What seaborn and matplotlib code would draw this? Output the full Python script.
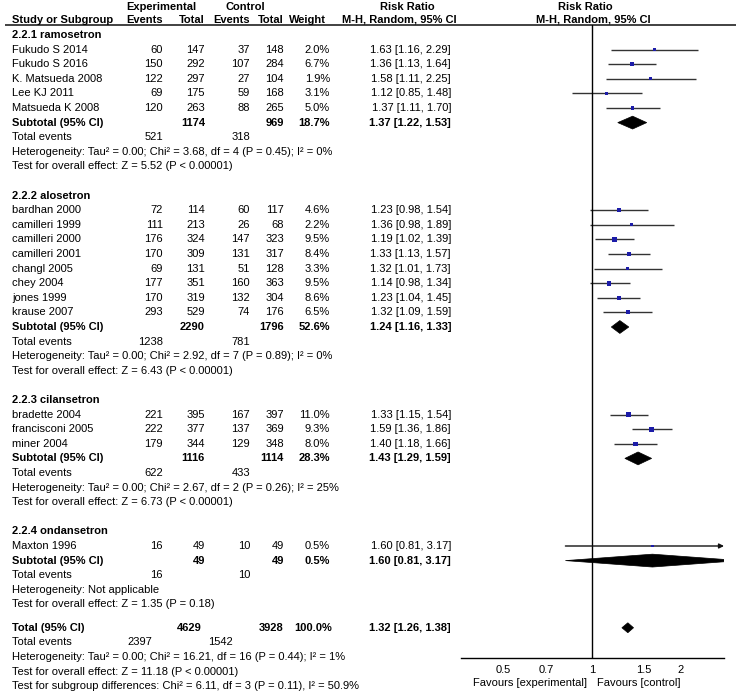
import matplotlib.pyplot as plt
import seaborn as sns
import pandas as pd
import numpy as np
from matplotlib.patches import Polygon
from matplotlib.ticker import NullLocator

sns.set_style("white")
plt.rcParams['font.family'] = ['Liberation Sans', 'DejaVu Sans']
plt.rcParams['text.color'] = 'black'
plt.rcParams['xtick.color'] = 'black'
FS = 8

# study level data
study = ["Fukudo S 2014", "Fukudo S 2016", "K. Matsueda 2008", "Lee KJ 2011", "Matsueda K 2008",
         "bardhan 2000", "camilleri 1999", "camilleri 2000", "camilleri 2001", "changl 2005",
         "chey 2004", "jones 1999", "krause 2007",
         "bradette 2004", "francisconi 2005", "miner 2004",
         "Maxton 1996"]
group = [0, 0, 0, 0, 0, 1, 1, 1, 1, 1, 1, 1, 1, 2, 2, 2, 3]
exp_events = [60, 150, 122, 69, 120, 72, 111, 176, 170, 69, 177, 170, 293, 221, 222, 179, 16]
exp_total = [147, 292, 297, 175, 263, 114, 213, 324, 309, 131, 351, 319, 529, 395, 377, 344, 49]
ctl_events = [37, 107, 27, 59, 88, 60, 26, 147, 131, 51, 160, 132, 74, 167, 137, 129, 10]
ctl_total = [148, 284, 104, 168, 265, 117, 68, 323, 317, 128, 363, 304, 176, 397, 369, 348, 49]
weight = [2.0, 6.7, 1.9, 3.1, 5.0, 4.6, 2.2, 9.5, 8.4, 3.3, 9.5, 8.6, 6.5, 11.0, 9.3, 8.0, 0.5]
rr = [1.63, 1.36, 1.58, 1.12, 1.37, 1.23, 1.36, 1.19, 1.33, 1.32, 1.14, 1.23, 1.32, 1.33, 1.59, 1.40, 1.60]
rr_lo = [1.16, 1.13, 1.11, 0.85, 1.11, 0.98, 0.98, 1.02, 1.13, 1.01, 0.98, 1.04, 1.09, 1.15, 1.36, 1.18, 0.81]
rr_hi = [2.29, 1.64, 2.25, 1.48, 1.70, 1.54, 1.89, 1.39, 1.57, 1.73, 1.34, 1.45, 1.59, 1.54, 1.86, 1.66, 3.17]

# subgroup data
grp_name = ["2.2.1 ramosetron", "2.2.2 alosetron", "2.2.3 cilansetron", "2.2.4 ondansetron"]
sub_exp_total = [1174, 2290, 1116, 49]
sub_ctl_total = [969, 1796, 1114, 49]
sub_weight = [18.7, 52.6, 28.3, 0.5]
sub_rr = [1.37, 1.24, 1.43, 1.60]
sub_lo = [1.22, 1.16, 1.29, 0.81]
sub_hi = [1.53, 1.33, 1.59, 3.17]
sub_exp_events = [521, 1238, 622, 16]
sub_ctl_events = [318, 781, 433, 10]
sub_het = ["Heterogeneity: Tau² = 0.00; Chi² = 3.68, df = 4 (P = 0.45); I² = 0%",
           "Heterogeneity: Tau² = 0.00; Chi² = 2.92, df = 7 (P = 0.89); I² = 0%",
           "Heterogeneity: Tau² = 0.00; Chi² = 2.67, df = 2 (P = 0.26); I² = 25%",
           "Heterogeneity: Not applicable"]
sub_test = ["Test for overall effect: Z = 5.52 (P < 0.00001)",
            "Test for overall effect: Z = 6.43 (P < 0.00001)",
            "Test for overall effect: Z = 6.73 (P < 0.00001)",
            "Test for overall effect: Z = 1.35 (P = 0.18)"]

# overall
tot_exp_total, tot_ctl_total, tot_weight = 4629, 3928, 100.0
tot_rr, tot_lo, tot_hi = 1.32, 1.26, 1.38
tot_exp_events, tot_ctl_events = 2397, 1542
tot_lines = ["Heterogeneity: Tau² = 0.00; Chi² = 16.21, df = 16 (P = 0.44); I² = 1%",
             "Test for overall effect: Z = 11.18 (P < 0.00001)",
             "Test for subgroup differences: Chi² = 6.11, df = 3 (P = 0.11), I² = 50.9%"]

# row layout
W, H = 736, 697
Y0, STEP = 35, 14.6
def px2row(y):
    return (y - Y0) / STEP

study_row = []
sub_row = []
grp_row = []
r = 0
for g in range(len(grp_name)):
    grp_row.append(r)
    n = group.count(g)
    study_row += [r + 1 + i for i in range(n)]
    sub_row.append(r + n + 1)
    r = r + n + 6
tot_row = sub_row[-1] + 4.6

fig = plt.figure(figsize=(W / 100, H / 100), dpi=100)
ax_t = fig.add_axes([0, 0, 1, 1])
ax_t.set_xlim(0, W)
ax_t.set_ylim(px2row(H), px2row(0))
ax_t.axis('off')

# column anchors (pixels)
X_NAME, X_EE, X_ET, X_CE, X_CT, X_W, X_CI = 12, 163, 205, 250, 284, 330, 451

def txt(x, y, s, ha='right', bold=False):
    ax_t.text(x, y, s, ha=ha, va='center', fontsize=FS, color='black',
              fontweight='bold' if bold else 'normal')

# headers
hy1, hy2 = px2row(7), px2row(20)
txt(161, hy1, "Experimental", 'center', True)
txt(245, hy1, "Control", 'center', True)
txt(407, hy1, "Risk Ratio", 'center', True)
txt(585, hy1, "Risk Ratio", 'center', True)
txt(X_NAME, hy2, "Study or Subgroup", 'left', True)
txt(X_EE, hy2, "Events", 'right', True)
txt(X_ET, hy2, "Total", 'right', True)
txt(X_CE, hy2, "Events", 'right', True)
txt(X_CT, hy2, "Total", 'right', True)
txt(326, hy2, "Weight", 'right', True)
txt(399, hy2, "M-H, Random, 95% CI", 'center', True)
txt(593, hy2, "M-H, Random, 95% CI", 'center', True)
ax_t.hlines(px2row(24.5), 5, W, color='#333333', lw=1.3)

def ci(a, b, c):
    return "%.2f [%.2f, %.2f]" % (a, b, c)

for i, s in enumerate(study):
    y = study_row[i]
    txt(X_NAME, y, s, 'left')
    txt(X_EE, y, str(exp_events[i]))
    txt(X_ET, y, str(exp_total[i]))
    txt(X_CE, y, str(ctl_events[i]))
    txt(X_CT, y, str(ctl_total[i]))
    txt(X_W, y, "%.1f%%" % weight[i])
    txt(X_CI, y, ci(rr[i], rr_lo[i], rr_hi[i]))

for g in range(len(grp_name)):
    txt(X_NAME, grp_row[g], grp_name[g], 'left', True)
    y = sub_row[g]
    txt(X_NAME, y, "Subtotal (95% CI)", 'left', True)
    txt(X_ET, y, str(sub_exp_total[g]), bold=True)
    txt(X_CT, y, str(sub_ctl_total[g]), bold=True)
    txt(X_W, y, "%.1f%%" % sub_weight[g], bold=True)
    txt(X_CI, y, ci(sub_rr[g], sub_lo[g], sub_hi[g]), bold=True)
    txt(X_NAME, y + 1, "Total events", 'left')
    txt(X_EE, y + 1, str(sub_exp_events[g]))
    txt(X_CE, y + 1, str(sub_ctl_events[g]))
    txt(X_NAME, y + 2, sub_het[g], 'left')
    txt(X_NAME, y + 3, sub_test[g], 'left')

txt(X_NAME, tot_row, "Total (95% CI)", 'left', True)
txt(X_ET - 3, tot_row, str(tot_exp_total), bold=True)
txt(X_CT, tot_row, str(tot_ctl_total), bold=True)
txt(X_W + 2, tot_row, "%.1f%%" % tot_weight, bold=True)
txt(X_CI, tot_row, ci(tot_rr, tot_lo, tot_hi), bold=True)
txt(X_NAME, tot_row + 1, "Total events", 'left')
txt(152, tot_row + 1, str(tot_exp_events))
txt(233, tot_row + 1, str(tot_ctl_events))
for k, s in enumerate(tot_lines):
    txt(X_NAME, tot_row + 2 + k, s, 'left')

# forest panel
XL, XR, YT, YB = 461, 724, 24.5, 658
xmin, xmax = 0.358, 2.8
ax_f = fig.add_axes([XL / W, 1 - YB / H, (XR - XL) / W, (YB - YT) / H])
ax_f.patch.set_alpha(0)
ax_f.set_xscale('log')

inside = [i for i in range(len(study)) if rr_hi[i] <= xmax]
outside = [i for i in range(len(study)) if rr_hi[i] > xmax]
ax_f.hlines([study_row[i] for i in inside], [rr_lo[i] for i in inside],
            [rr_hi[i] for i in inside], color='#333333', lw=1)
for i in outside:
    ax_f.annotate('', xy=(xmax, study_row[i]), xytext=(rr_lo[i], study_row[i]),
                  arrowprops=dict(arrowstyle='-|>', color='#111111', lw=1, mutation_scale=7,
                                  shrinkA=0, shrinkB=0), annotation_clip=False)

df = pd.DataFrame({'rr': rr, 'row': study_row, 'weight': weight})
sns.scatterplot(data=df, x='rr', y='row', size='weight', sizes=(3, 13), marker='s',
                color='#1c1ca8', linewidth=0, legend=False, ax=ax_f, zorder=3)

def diamond(c, lo, hi, y, h):
    ax_f.add_patch(Polygon([(lo, y), (c, y - h), (hi, y), (c, y + h)], closed=True,
                           facecolor='black', edgecolor='black', lw=0.5, zorder=3))

for g in range(len(grp_name)):
    diamond(sub_rr[g], sub_lo[g], sub_hi[g], sub_row[g], 0.44)
diamond(tot_rr, tot_lo, tot_hi, tot_row, 0.34)

ax_f.axvline(1, color='black', lw=1)
ax_f.set_xlim(xmin, xmax)
ax_f.set_ylim(px2row(YB), px2row(YT))
ax_f.set_yticks([])
ax_f.set_xlabel('')
ax_f.set_ylabel('')
ax_f.set_xticks([0.5, 0.7, 1, 1.5, 2])
ax_f.set_xticklabels(['0.5', '0.7', '1', '1.5', '2'])
ax_f.xaxis.set_minor_locator(NullLocator())
ax_f.tick_params(axis='x', direction='inout', length=6, width=1, labelsize=FS, pad=2,
                 colors='black')
for sp in ['top', 'left', 'right']:
    ax_f.spines[sp].set_visible(False)
ax_f.spines['bottom'].set_color('black')
ax_f.spines['bottom'].set_linewidth(1)

ax_f.annotate("Favours [experimental]", xy=(1, 0), xycoords=('data', 'axes fraction'),
              xytext=(-5, -25), textcoords='offset pixels', ha='right', va='center',
              fontsize=FS, color='black')
ax_f.annotate("Favours [control]", xy=(1, 0), xycoords=('data', 'axes fraction'),
              xytext=(5, -25), textcoords='offset pixels', ha='left', va='center',
              fontsize=FS, color='black')

fig.savefig("out.png", dpi=100)
